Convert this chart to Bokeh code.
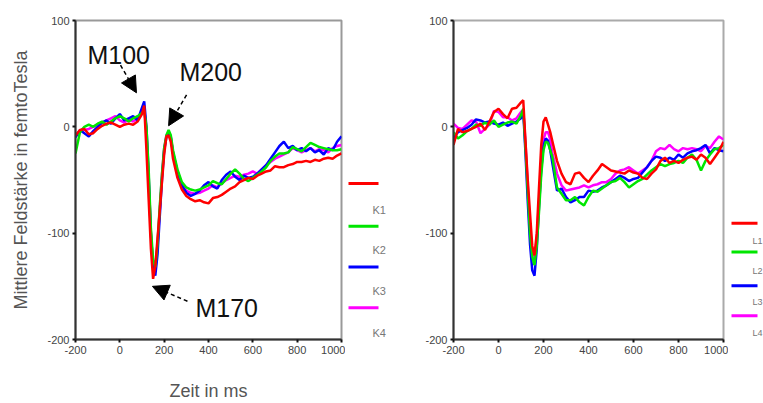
from bokeh.plotting import figure
from bokeh.layouts import row
from bokeh.models import Range1d, FixedTicker, Arrow, NormalHead, Label
from bokeh.embed import file_html
from bokeh.resources import INLINE
from bokeh.core.properties import value

FONT = "Liberation Sans"

# time axis (ms)
t_ms = [-200, -180, -160, -140, -120, -100, -80, -60, -40, -20, 0, 20, 40, 60, 80, 100,
        110, 120, 130, 140, 150, 160, 170, 180, 190, 200, 210, 220, 230, 240,
        260, 280, 300, 320, 340, 360, 380, 400, 420, 440, 460, 480, 500, 520, 540, 560,
        580, 600, 620, 640, 660, 680, 700, 720, 740, 760, 780, 800, 820, 840, 860, 880,
        900, 920, 940, 960, 980, 1000]

# left panel (K1..K4)
k1 = [-8, -3, -2, -7, -6, -2, 1, 3, 4, 2, 0, 2, 3, 2, 5, 12,
      20, -22, -68, -114, -143, -131, -105, -79, -52, -26, -9, -8, -14, -30,
      -48, -59, -65, -68, -70, -69, -71, -72, -67, -66, -64, -61, -58, -56, -52, -50,
      -48, -49, -46, -44, -42, -41, -37, -38, -38, -36, -35, -33, -33, -32, -33, -31,
      -32, -30, -29, -30, -27, -25]
k2 = [-25, -5, 0, 2, 0, 3, 5, 2, 5, 8, 10, 8, 5, 8, 10, 13,
      15, 0, -40, -95, -125, -132, -110, -75, -45, -20, -8, -3, -8, -22,
      -40, -52, -57, -59, -60, -59, -57, -55, -51, -53, -54, -49, -44, -40, -44, -49,
      -51, -48, -45, -42, -38, -32, -28, -25, -25, -24, -19, -21, -23, -19, -15, -17,
      -19, -20, -21, -22, -22, -21]
k3 = [-10, -3, -6, -9, -4, 0, 4, 6, 3, 8, 12, 6, 8, 10, 6, 18,
      24, 0, -45, -100, -130, -140, -120, -85, -50, -22, -10, -5, -10, -25,
      -42, -55, -62, -65, -63, -60, -55, -52, -56, -58, -50, -45, -42, -47, -50, -46,
      -48, -47, -44, -40, -36, -30, -24, -18, -14, -20, -18, -22, -20, -23, -20, -24,
      -22, -26, -20, -22, -14, -9]
k4 = [-8, -4, -3, -2, 0, 2, 4, 6, 8, 10, 6, 4, 7, 5, 8, 14,
      18, -5, -50, -100, -132, -136, -112, -78, -45, -20, -8, -5, -10, -24,
      -42, -54, -60, -62, -63, -62, -60, -58, -55, -57, -53, -50, -48, -46, -47, -45,
      -44, -42, -44, -40, -36, -33, -30, -28, -26, -24, -20, -22, -24, -22, -20, -23,
      -21, -22, -24, -20, -18, -17]

# right panel (L1..L4)
l1 = [-17, -2, -5, -4, -2, 0, 3, -3, 5, 14, 17, 12, 8, 17, 18, 23,
      25, -14, -50, -81, -112, -121, -100, -57, -17, 5, 9, 2, -5, -14,
      -32, -44, -52, -54, -44, -43, -48, -52, -46, -41, -35, -38, -41, -42, -43, -44,
      -41, -43, -44, -48, -49, -44, -40, -32, -29, -34, -32, -34, -31, -29, -28, -31,
      -26, -29, -35, -29, -23, -14]
l2 = [-5, -11, -8, -4, -2, 2, 1, 4, 2, 6, 0, 2, 4, 5, 3, 11,
      17, -20, -60, -100, -122, -130, -112, -80, -45, -22, -14, -15, -22, -29,
      -57, -63, -69, -69, -66, -71, -74, -66, -60, -61, -58, -55, -52, -51, -48, -52,
      -57, -54, -51, -49, -45, -41, -38, -35, -37, -35, -34, -32, -34, -29, -26, -31,
      -41, -32, -26, -21, -20, -17]
l3 = [-10, -5, -3, -1, 2, 7, 6, 4, 5, 3, 2, 4, 1, 3, 5, 8,
      15, -25, -70, -110, -135, -140, -115, -75, -40, -18, -11, -13, -22, -35,
      -60, -58, -66, -71, -69, -66, -66, -60, -61, -60, -57, -55, -52, -49, -46, -48,
      -51, -49, -48, -43, -38, -32, -28, -29, -32, -29, -31, -26, -29, -25, -23, -22,
      -20, -17, -25, -20, -22, -23]
l4 = [3, -1, -2, 2, 6, 5, -6, -2, 2, 15, 14, 9, 9, 6, 8, 14,
      16, -15, -55, -95, -118, -124, -105, -70, -35, -12, -5, -5, -12, -25,
      -44, -55, -60, -59, -58, -57, -55, -57, -55, -54, -52, -52, -49, -44, -41, -40,
      -38, -41, -44, -41, -38, -32, -23, -20, -21, -17, -21, -23, -20, -21, -20, -21,
      -23, -18, -20, -14, -9, -12]

x_ticks = [-200, 0, 200, 400, 600, 800, 1000]
x_tick_labels = ["-200", "0", "200", "400", "600", "800", "1000"]
y_ticks = [-200, -100, 0, 100]
y_tick_labels = ["-200", "-100", "0", "100"]

colors = ["#ff0000", "#00e600", "#0000ff", "#ff00ff"]
left_names = ["K1", "K2", "K3", "K4"]
right_names = ["L1", "L2", "L3", "L4"]

x_title = "Zeit in ms"
y_title = "Mittlere Feldstärke in femtoTesla"

FRAME_TOP, FRAME_BOTTOM = 20, 341  # pixel rows of the (aligned) plot frames


def style_axis(ax, ticks, labels):
    ax.ticker = FixedTicker(ticks=ticks)
    ax.major_label_overrides = dict(zip(ticks, labels))
    ax.axis_line_color = "#333333"
    ax.axis_line_width = 2
    ax.major_tick_line_color = "#111111"
    ax.major_tick_line_width = 2
    ax.major_tick_out = 3
    ax.major_tick_in = 0
    ax.minor_tick_line_color = None
    ax.major_label_text_font = FONT
    ax.major_label_text_font_size = "11px"
    ax.major_label_text_color = "#444444"
    ax.major_label_standoff = 3


def make_main(width, bl, br, bt, bb, series, outline_color):
    p = figure(width=width, height=403, x_range=Range1d(-200, 1000), y_range=Range1d(-200, 100),
               output_backend="svg", toolbar_location=None,
               min_border_left=bl, min_border_right=br, min_border_top=bt, min_border_bottom=bb)
    p.xgrid.visible = False
    p.ygrid.visible = False
    p.outline_line_color = outline_color
    p.outline_line_width = 2
    style_axis(p.xaxis[0], x_ticks, x_tick_labels)
    style_axis(p.yaxis[0], y_ticks, y_tick_labels)
    # draw order: magenta, blue, green, red (red on top)
    for ys, c in reversed(list(zip(series, colors))):
        p.line(t_ms, ys, line_color=c, line_width=2.5)
    return p


def make_legend(width, names, line_y, label_y, x0, x1, lx, fs):
    lg = figure(width=width, height=403, x_range=Range1d(0, width),
                y_range=Range1d(FRAME_BOTTOM, FRAME_TOP),
                min_border=0, toolbar_location=None, output_backend="svg",
                x_axis_location=None, y_axis_location=None)
    lg.outline_line_color = None
    lg.xgrid.visible = False
    lg.ygrid.visible = False
    lg.segment(x0=[x0] * 4, y0=line_y, x1=[x1] * 4, y1=line_y, line_color=colors, line_width=3)
    lg.text(x=[lx] * 4, y=label_y, text=names, text_font=value(FONT), text_font_size=fs,
            text_color="#777777", text_baseline="middle", text_align="left")
    return lg


p1 = make_main(345, 75, 4, FRAME_TOP, 403 - FRAME_BOTTOM, [k1, k2, k3, k4], "#999999")
p1.xaxis[0].axis_label = x_title
p1.yaxis[0].axis_label = y_title
for ax in (p1.xaxis[0], p1.yaxis[0]):
    ax.axis_label_text_font = FONT
    ax.axis_label_text_font_size = "18px"
    ax.axis_label_text_font_style = "normal"
    ax.axis_label_text_color = "#555555"
p1.xaxis[0].axis_label_standoff = 24
p1.yaxis[0].axis_label_standoff = 13

# peak annotations
for txt, x, y in [("M100", -146, 68), ("M200", 269, 52), ("M170", 341, -170)]:
    p1.add_layout(Label(x=x, y=y, text=txt, text_font=FONT, text_font_size="25px",
                        text_color="#111111", text_baseline="alphabetic"))
for xs, ys, xe, ye in [(3, 58, 75, 32), (301, 30, 220, 1), (305, -164, 147, -150)]:
    p1.add_layout(Arrow(end=NormalHead(size=16, fill_color="black", line_color="black"),
                        x_start=xs, y_start=ys, x_end=xe, y_end=ye,
                        line_color="black", line_width=1.5, line_dash="4 3"))

leg1 = make_legend(75, left_names, [184, 227, 268, 309], [211, 251, 292, 334], 3, 33, 27, "11px")

p2 = make_main(308, 33, 5, 16, 61, [l1, l2, l3, l4], "#aaaaaa")

leg2 = make_legend(35, right_names, [224, 253, 287, 317], [242, 272, 303, 334], 3, 29, 24, "9px")

layout = row(p1, leg1, p2, leg2)

open("out.html", "w").write(file_html(layout, INLINE))
